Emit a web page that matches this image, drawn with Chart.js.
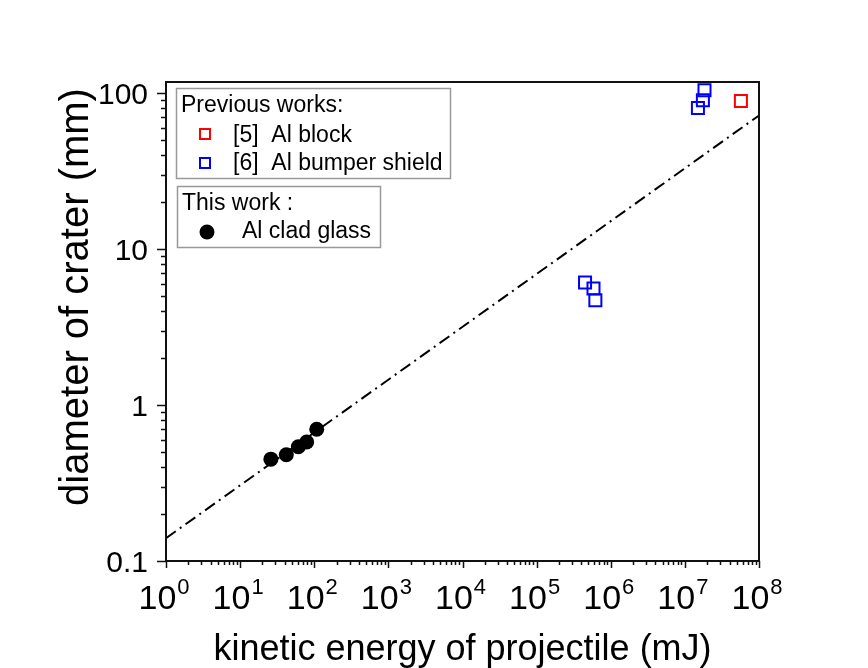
<!DOCTYPE html>
<html>
<head>
<meta charset="utf-8">
<script src="https://cdn.jsdelivr.net/npm/chart.js@4.4.0/dist/chart.umd.min.js"></script>
<style>
  html, body { margin: 0; padding: 0; background: #fff; }
  #wrap { width: 868px; height: 668px; position: relative; }
</style>
</head>
<body>
<div id="wrap"><canvas id="crater" width="868" height="668"></canvas></div>
<script>
// kinetic energy of projectile (mJ) vs diameter of crater (mm)
const cladEnergy = [26, 42, 61, 79, 108];
const cladDiameter = [0.45, 0.48, 0.54, 0.58, 0.70];
const blockEnergy = [5.7e7];
const blockDiameter = [89];
const bumperEnergy = [4.5e5, 5.85e5, 6.2e5, 1.5e7, 1.75e7, 1.84e7];
const bumperDiameter = [6.1, 5.6, 4.7, 80.5, 90, 104.5];
// fitted power law line (end points)
const fitEnergy = [1, 1e8];
const fitDiameter = [0.14, 72];
// tick labels
const xExponents = [0, 1, 2, 3, 4, 5, 6, 7, 8];
const yTickValues = [0.1, 1, 10, 100];
const yTickLabels = ["0.1", "1", "10", "100"];

const FONT = '"Liberation Sans", Arial, Helvetica, sans-serif';

function toPoints(xs, ys) {
  return xs.map((v, i) => ({ x: v, y: ys[i] }));
}

// frame, ticks, labels and the two legend boxes
const decorPlugin = {
  id: "decor",
  afterDraw(chart) {
    const { ctx, chartArea: a } = chart;
    const xs = chart.scales.x;
    const ys = chart.scales.y;
    ctx.save();

    // axis frame
    ctx.strokeStyle = "#111";
    ctx.lineWidth = 2;
    ctx.strokeRect(a.left, a.top, a.right - a.left, a.bottom - a.top);

    // tick marks
    ctx.lineWidth = 1.5;
    ctx.beginPath();
    for (let k = 0; k <= 8; k++) {
      for (let m = 1; m < 10; m++) {
        if (k === 8 && m > 1) break;
        const px = Math.round(xs.getPixelForValue(m * Math.pow(10, k))) + 0.5;
        const len = m === 1 ? 7 : 4;
        ctx.moveTo(px, a.bottom);
        ctx.lineTo(px, a.bottom + len);
      }
    }
    for (let k = -1; k <= 2; k++) {
      for (let m = 1; m < 10; m++) {
        const v = m * Math.pow(10, k);
        if (v > ys.max) break;
        const py = Math.round(ys.getPixelForValue(v)) + 0.5;
        const len = m === 1 ? 9 : 5;
        ctx.moveTo(a.left, py);
        ctx.lineTo(a.left - len, py);
      }
    }
    ctx.stroke();

    // x tick labels 10^n
    ctx.fillStyle = "#000";
    ctx.textBaseline = "alphabetic";
    ctx.textAlign = "left";
    xExponents.forEach((e) => {
      const px = xs.getPixelForValue(Math.pow(10, e));
      ctx.font = "34px " + FONT;
      const wb = ctx.measureText("10").width;
      ctx.font = "22px " + FONT;
      const we = ctx.measureText(String(e)).width;
      const start = px - 2 - (wb + we + 1) / 2;
      ctx.font = "34px " + FONT;
      ctx.fillText("10", start, 609);
      ctx.font = "22px " + FONT;
      ctx.fillText(String(e), start + wb + 1, 594);
    });

    // y tick labels
    ctx.font = "30px " + FONT;
    ctx.textAlign = "right";
    yTickValues.forEach((v, i) => {
      const py = ys.getPixelForValue(v);
      ctx.fillText(yTickLabels[i], 148, py + 11);
    });

    // axis titles
    ctx.font = "36px " + FONT;
    ctx.textAlign = "center";
    ctx.fillText("kinetic energy of projectile (mJ)", (a.left + a.right) / 2, 660);
    ctx.save();
    ctx.font = "40px " + FONT;
    ctx.translate(88, 297);
    ctx.rotate(-Math.PI / 2);
    ctx.fillText("diameter of crater (mm)", 0, 0);
    ctx.restore();

    // legend boxes
    ctx.lineWidth = 1.5;
    ctx.strokeStyle = "#999";
    ctx.fillStyle = "#fff";
    ctx.fillRect(176, 88, 275, 91);
    ctx.strokeRect(176.5, 88.5, 274, 90);
    ctx.fillRect(177, 186, 204, 62);
    ctx.strokeRect(177.5, 186.5, 203, 61);

    ctx.fillStyle = "#000";
    ctx.textAlign = "left";
    ctx.font = "23px " + FONT;
    ctx.fillText("Previous works:", 181, 112);
    ctx.fillText("[5]  Al block", 233, 142);
    ctx.fillText("[6]  Al bumper shield", 233, 170);
    ctx.fillText("This work :", 182, 210);
    ctx.fillText("Al clad glass", 242, 238);

    ctx.lineWidth = 2;
    ctx.strokeStyle = "#ff0000";
    ctx.strokeRect(200, 129, 10, 10);
    ctx.strokeStyle = "#0000ff";
    ctx.strokeRect(200, 158, 10, 10);
    ctx.beginPath();
    ctx.arc(207, 232, 7.5, 0, Math.PI * 2);
    ctx.fill();

    ctx.restore();
  }
};

new Chart(document.getElementById("crater"), {
  type: "scatter",
  data: {
    datasets: [
      {
        label: "Al clad glass",
        data: toPoints(cladEnergy, cladDiameter),
        pointStyle: "circle",
        pointRadius: 7.5,
        backgroundColor: "#000",
        borderColor: "#000",
        borderWidth: 0
      },
      {
        label: "[5] Al block",
        data: toPoints(blockEnergy, blockDiameter),
        pointStyle: "rect",
        pointRadius: 8.5,
        backgroundColor: "rgba(0,0,0,0)",
        borderColor: "#ff0000",
        borderWidth: 2
      },
      {
        label: "[6] Al bumper shield",
        data: toPoints(bumperEnergy, bumperDiameter),
        pointStyle: "rect",
        pointRadius: 8.5,
        backgroundColor: "rgba(0,0,0,0)",
        borderColor: "#0000ff",
        borderWidth: 2
      },
      {
        label: "fit",
        data: toPoints(fitEnergy, fitDiameter),
        showLine: true,
        borderColor: "#000",
        borderWidth: 2,
        borderDash: [12, 5, 2, 5],
        pointRadius: 0
      }
    ]
  },
  options: {
    responsive: false,
    animation: false,
    devicePixelRatio: 1,
    layout: { padding: { top: 82, right: 109, left: 0, bottom: 0 } },
    plugins: {
      legend: { display: false },
      tooltip: { enabled: false }
    },
    scales: {
      x: {
        type: "logarithmic",
        position: "bottom",
        min: 1,
        max: 1e8,
        grid: { display: false },
        border: { display: false },
        ticks: { display: false },
        afterFit: (s) => { s.height = 107; }
      },
      y: {
        type: "logarithmic",
        position: "left",
        min: 0.1,
        max: 118,
        grid: { display: false },
        border: { display: false },
        ticks: { display: false },
        afterFit: (s) => { s.width = 166; }
      }
    }
  },
  plugins: [decorPlugin]
});
</script>
</body>
</html>
